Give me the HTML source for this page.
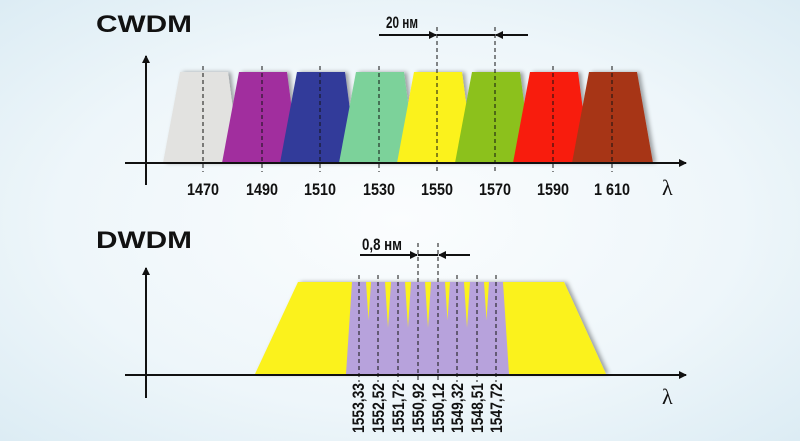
<!DOCTYPE html>
<html><head><meta charset="utf-8"><style>
html,body{margin:0;padding:0}
body{width:800px;height:441px;overflow:hidden;background:radial-gradient(ellipse at 50% 50%,#fbfdfe 0%,#eef6fa 60%,#dcecf4 100%)}
svg{display:block}
.t{font-family:"Liberation Sans",sans-serif;font-weight:bold;fill:#111}
.n{font-family:"Liberation Sans",sans-serif;font-weight:bold;fill:#111;font-size:17px}
</style></head><body>
<svg width="800" height="441" viewBox="0 0 800 441" xmlns="http://www.w3.org/2000/svg">
<defs>
<marker id="a" markerWidth="8" markerHeight="8" refX="7" refY="4" orient="auto" markerUnits="userSpaceOnUse"><path d="M0,0 L8,4 L0,8 Z" fill="#111"/></marker>
<filter id="sh" x="-10%" y="-10%" width="130%" height="130%"><feDropShadow dx="3" dy="0" stdDeviation="2" flood-color="#000" flood-opacity="0.35"/></filter>
</defs>
<text x="96" y="32" class="t" font-size="24" textLength="96" lengthAdjust="spacingAndGlyphs">CWDM</text>
<g filter="url(#sh)">
<polygon points="180,72 228,72 240,163 163,163" fill="#e2e2e0"/>
<polygon points="239,72 287,72 299,163 222,163" fill="#a12e9e"/>
<polygon points="297,72 345,72 357,163 280,163" fill="#323a9a"/>
<polygon points="356,72 404,72 416,163 339,163" fill="#7bd29a"/>
<polygon points="414,72 462,72 474,163 397,163" fill="#fbf21a"/>
<polygon points="472,72 520,72 532,163 455,163" fill="#8cc11a"/>
<polygon points="530,72 578,72 590,163 513,163" fill="#f81d10"/>
<polygon points="589,72 637,72 653,163 572,163" fill="#a73416"/>
</g>
<g stroke="#111" stroke-width="1" stroke-dasharray="4,3">
<line x1="203" y1="66" x2="203" y2="172"/><line x1="262" y1="66" x2="262" y2="172"/>
<line x1="320" y1="66" x2="320" y2="172"/><line x1="379" y1="66" x2="379" y2="172"/>
<line x1="437" y1="27" x2="437" y2="172"/><line x1="495" y1="27" x2="495" y2="172"/>
<line x1="553" y1="66" x2="553" y2="172"/><line x1="612" y1="66" x2="612" y2="172"/>
</g>
<g stroke="#111" stroke-width="2" fill="none">
<line x1="125" y1="163" x2="686" y2="163" marker-end="url(#a)"/>
<line x1="146" y1="185" x2="146" y2="56" marker-end="url(#a)"/>
<line x1="379" y1="35" x2="436" y2="35" marker-end="url(#a)"/>
<line x1="437" y1="35" x2="495" y2="35"/>
<line x1="528" y1="35" x2="496" y2="35" marker-end="url(#a)"/>
</g>
<text x="386" y="28" class="n" font-size="15" textLength="32" lengthAdjust="spacingAndGlyphs">20 нм</text>
<g class="n" text-anchor="middle">
<text x="203" y="195" textLength="32" lengthAdjust="spacingAndGlyphs">1470</text><text x="262" y="195" textLength="32" lengthAdjust="spacingAndGlyphs">1490</text><text x="320" y="195" textLength="32" lengthAdjust="spacingAndGlyphs">1510</text>
<text x="379" y="195" textLength="32" lengthAdjust="spacingAndGlyphs">1530</text><text x="437" y="195" textLength="32" lengthAdjust="spacingAndGlyphs">1550</text><text x="495" y="195" textLength="32" lengthAdjust="spacingAndGlyphs">1570</text>
<text x="553" y="195" textLength="32" lengthAdjust="spacingAndGlyphs">1590</text><text x="612" y="195" textLength="36" lengthAdjust="spacingAndGlyphs">1 610</text>
</g>
<text x="662" y="195" font-family="Liberation Serif,serif" font-size="22" fill="#111">λ</text>

<text x="96" y="248" class="t" font-size="24" textLength="96" lengthAdjust="spacingAndGlyphs">DWDM</text>
<g filter="url(#sh)">
<polygon points="298,282 564,282 606,374 255,374" fill="#fbf21a"/>
<polygon points="352,282 366,282 372,374 346,374" fill="#b7a2dc"/>
<polygon points="371,282 385,282 391,374 365,374" fill="#b7a2dc"/>
<polygon points="391,282 405,282 411,374 385,374" fill="#b7a2dc"/>
<polygon points="411,282 425,282 431,374 405,374" fill="#b7a2dc"/>
<polygon points="431,282 445,282 451,374 425,374" fill="#b7a2dc"/>
<polygon points="450,282 464,282 470,374 444,374" fill="#b7a2dc"/>
<polygon points="470,282 484,282 490,374 464,374" fill="#b7a2dc"/>
<polygon points="489,282 503,282 509,374 483,374" fill="#b7a2dc"/>
</g>
<g stroke="#111" stroke-width="1" stroke-dasharray="4,3">
<line x1="359" y1="275" x2="359" y2="382"/><line x1="378" y1="275" x2="378" y2="382"/>
<line x1="398" y1="275" x2="398" y2="382"/><line x1="418" y1="243" x2="418" y2="382"/>
<line x1="438" y1="243" x2="438" y2="382"/><line x1="457" y1="275" x2="457" y2="382"/>
<line x1="477" y1="275" x2="477" y2="382"/><line x1="496" y1="275" x2="496" y2="382"/>
</g>
<g stroke="#111" stroke-width="2" fill="none">
<line x1="125" y1="375" x2="686" y2="375" marker-end="url(#a)"/>
<line x1="146" y1="398" x2="146" y2="268" marker-end="url(#a)"/>
<line x1="360" y1="255" x2="417" y2="255" marker-end="url(#a)"/>
<line x1="418" y1="255" x2="438" y2="255"/>
<line x1="470" y1="255" x2="439" y2="255" marker-end="url(#a)"/>
</g>
<text x="362" y="250" class="n" font-size="16" textLength="40" lengthAdjust="spacingAndGlyphs">0,8 нм</text>
<g class="n" font-size="15" text-anchor="end">
<text transform="translate(364,383) rotate(-90)" textLength="50" lengthAdjust="spacingAndGlyphs">1553,33</text>
<text transform="translate(384,383) rotate(-90)" textLength="50" lengthAdjust="spacingAndGlyphs">1552,52</text>
<text transform="translate(404,383) rotate(-90)" textLength="50" lengthAdjust="spacingAndGlyphs">1551,72</text>
<text transform="translate(424,383) rotate(-90)" textLength="50" lengthAdjust="spacingAndGlyphs">1550,92</text>
<text transform="translate(444,383) rotate(-90)" textLength="50" lengthAdjust="spacingAndGlyphs">1550,12</text>
<text transform="translate(463,383) rotate(-90)" textLength="50" lengthAdjust="spacingAndGlyphs">1549,32</text>
<text transform="translate(483,383) rotate(-90)" textLength="50" lengthAdjust="spacingAndGlyphs">1548,51</text>
<text transform="translate(502,383) rotate(-90)" textLength="50" lengthAdjust="spacingAndGlyphs">1547,72</text>
</g>
<text x="662" y="404" font-family="Liberation Serif,serif" font-size="22" fill="#111">λ</text>
</svg>
</body></html>
